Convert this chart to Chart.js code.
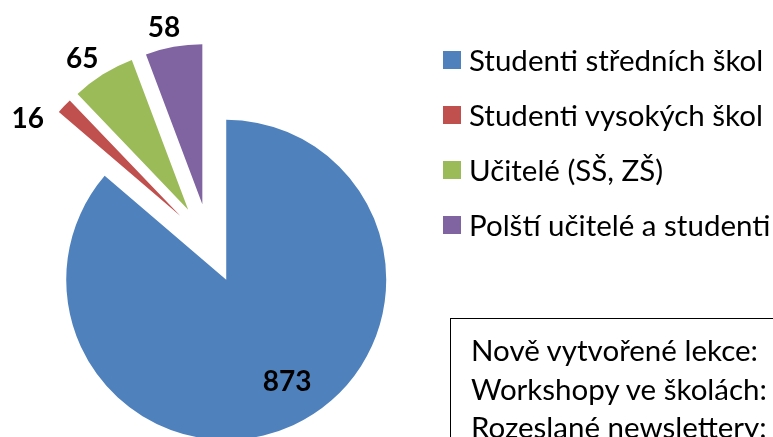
<!DOCTYPE html>
<html>
<head>
<meta charset="utf-8">
<script src="https://cdn.jsdelivr.net/npm/chart.js@4"></script>
<style>
  html, body { margin: 0; padding: 0; background: #fff; overflow: hidden; }
  .wrap { position: relative; width: 773px; height: 437px; overflow: hidden; font-family: Lato, "Open Sans", sans-serif; }
  #pie { position: absolute; left: 0; top: 0; }
  .legend { position: absolute; left: 443px; top: 32px; }
  .legend-item { height: 55px; display: flex; align-items: center; font-size: 29.5px; color: #000; white-space: nowrap; }
  .legend-item span.box { width: 18px; height: 18px; margin-right: 8px; flex: none; }
  .note { position: absolute; left: 450px; top: 318px; width: 400px; height: 200px; border: 1px solid #000; box-sizing: border-box; padding: 12px 0 0 20px; font-size: 29.5px; line-height: 38.5px; color: #000; white-space: nowrap; }
</style>
</head>
<body>
<div class="wrap">
  <canvas id="pie" width="773" height="437"></canvas>
  <div class="legend" id="legend"></div>
  <div class="note" id="note"></div>
</div>
<script>
// data
const categories = ["Studenti středních škol", "Studenti vysokých škol", "Učitelé (SŠ, ZŠ)", "Polští učitelé a studenti"];
const counts = [873, 16, 65, 58];
const colors = ["#4F81BD", "#C0504D", "#9BBB59", "#8064A2"];
const noteLines = ["Nově vytvořené lekce:", "Workshopy ve školách:", "Rozeslané newslettery:"];

// label placement (fraction of radius from slice tip, angle nudge in deg)
const labelDist = [0.745, 1.13, 1.15, 1.125];
const labelNudge = [-6, -11, -3, -2];
const EXPLODE = 40;

// every slice pulled out from the centre
const explodePlugin = {
  id: "explode",
  afterDatasetUpdate(chart) {
    chart.getDatasetMeta(0).data.forEach(arc => {
      const mid = (arc.startAngle + arc.endAngle) / 2;
      arc.x += Math.cos(mid) * EXPLODE;
      arc.y += Math.sin(mid) * EXPLODE;
    });
  }
};

const valueLabels = {
  id: "valueLabels",
  afterDatasetsDraw(chart) {
    const ctx = chart.ctx;
    ctx.save();
    ctx.font = "bold 28px Lato, sans-serif";
    ctx.fillStyle = "#000";
    ctx.textAlign = "center";
    ctx.textBaseline = "middle";
    chart.getDatasetMeta(0).data.forEach((arc, i) => {
      const a = (arc.startAngle + arc.endAngle) / 2 + labelNudge[i] * Math.PI / 180;
      const d = arc.outerRadius * labelDist[i];
      ctx.fillText(String(counts[i]), arc.x + Math.cos(a) * d, arc.y + Math.sin(a) * d);
    });
    ctx.restore();
  }
};

new Chart(document.getElementById("pie"), {
  type: "pie",
  data: {
    labels: categories,
    datasets: [{
      data: counts,
      backgroundColor: colors,
      borderWidth: 0,
      clip: false
    }]
  },
  options: {
    responsive: false,
    animation: false,
    events: [],
    radius: 160,
    layout: { padding: { left: 0, right: 354, top: 50, bottom: 0 } },
    plugins: { legend: { display: false }, tooltip: { enabled: false } }
  },
  plugins: [explodePlugin, valueLabels]
});

const legendEl = document.getElementById("legend");
categories.forEach((c, i) => {
  const row = document.createElement("div");
  row.className = "legend-item";
  row.innerHTML = `<span class="box" style="background:${colors[i]}"></span>${c}`;
  legendEl.appendChild(row);
});
document.getElementById("note").innerHTML = noteLines.map(t => `<div>${t}</div>`).join("");
</script>
</body>
</html>
